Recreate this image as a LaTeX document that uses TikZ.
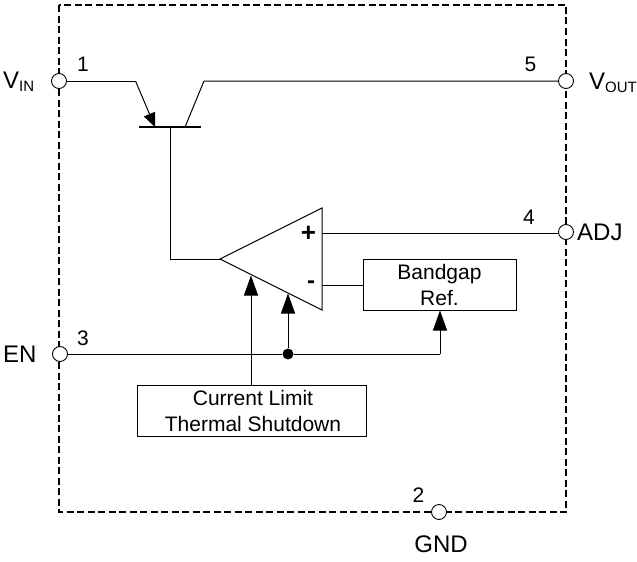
\documentclass[tikz,border=0pt]{standalone}
\usepackage{fontspec}
\setmainfont{Liberation Sans}
\usetikzlibrary{arrows.meta,calc}
\tikzset{
  wire/.style={line width=1pt,black,line cap=butt},
  fed/.style={wire,-{Triangle[length=20pt,width=14pt,fill=black]}},
  emit/.style={wire,-{Triangle[length=14pt,width=12pt,fill=black]}},
  pin/.style={circle,draw=black,line width=0.9pt,fill=white,minimum size=15pt,inner sep=0pt},
  blockbox/.style={draw=black,line width=1pt,fill=white,inner sep=0pt,align=center,font=\fontsize{21}{26}\selectfont},
  frame/.style={line width=1.3pt,dash pattern=on 7pt off 3.5pt,black},
  lab/.style={inner sep=0pt,font=\fontsize{21}{25}\selectfont},
  siglab/.style={inner sep=0pt,font=\fontsize{24}{28}\selectfont},
  dot/.style={circle,fill=black,inner sep=0pt,minimum size=11pt}
}
\newcommand{\subt}[1]{\raisebox{-3pt}{\fontsize{15}{18}\selectfont #1}}
\begin{document}
\begin{tikzpicture}[x=1pt,y=-1pt]
\useasboundingbox (0,0) rectangle (637,562);
% package outline
\draw[frame] (59,5) rectangle (566,512);
% coordinates
\coordinate (opA) at (220,259);
\coordinate (opT) at (322,208);
\coordinate (opB) at (322,310);
\coordinate (em) at (135.5,81);
\coordinate (emb) at (155,127);
\coordinate (co) at (204,81);
\coordinate (cob) at (185,127);
\coordinate (bl) at (139,127);
\coordinate (br) at (201,127);
\coordinate (bm) at (170,127);
\coordinate (bend) at (170,259);
\coordinate (plus) at (322,233);
\coordinate (minus) at (322,285);
\coordinate (tipA) at (251,275.5);
\coordinate (tipB) at (288,293.5);
% pins
\node[pin] (p1) at (59,81) {};
\node[pin] (p5) at (566,81) {};
\node[pin] (p4) at (566,232) {};
\node[pin] (p3) at (60,354) {};
\node[pin] (p2) at (439,512) {};
% blocks
\node[blockbox,minimum width=153pt,minimum height=51pt] (bg) at (439.5,284.5) {Bandgap\\Ref.};
\node[blockbox,minimum width=229pt,minimum height=51pt] (cl) at (251.5,410.5) {\hspace*{3pt}Current Limit\\\hspace*{3pt}Thermal Shutdown};
\node[dot] (j) at (288,354) {};
% transistor
\draw[wire,line width=1.2pt] (bl) -- (br);
\draw[wire] (p1) -- (em);
\draw[emit] (em) -- (emb);
\draw[wire] (cob) -- (co) -- (p5);
\draw[wire] (bm) -- (bend) -- (opA);
% op amp
\draw[wire,line join=miter] (opA) -- (opT) -- (opB) -- cycle;
\draw[wire] (plus) -- (plus -| p4.west);
\draw[wire] (minus) -- (minus -| bg.west);
% enable net
\draw[wire] (p3) -- (j);
\draw[wire] (j) -- (440,354) coordinate (enb);
\draw[fed] (enb) -- (enb |- bg.south);
\draw[fed] (j) -- (tipB);
\draw[fed] (cl.north -| tipA) -- (tipA);
% labels
\node[lab] (n1) at (83,64) {1};
\node[lab] (n5) at (530.5,64) {5};
\node[lab] (n4) at (529,217) {4};
\node[lab] (n3) at (83,338) {3};
\node[lab] (n2) at (418.5,495.5) {2};
\node[lab,font=\bfseries\fontsize{26}{28}\selectfont] (np) at (308.5,234) {+};
\node[lab,font=\bfseries\fontsize{24}{28}\selectfont] (nm) at (311,285) {-};
\node[siglab,anchor=base west] (vin) at (3,88) {V\subt{IN}};
\node[siglab,anchor=base west] (vout) at (589,89) {V\subt{OUT}};
\node[siglab,anchor=base west] (adj) at (577,240) {ADJ};
\node[siglab,anchor=base west] (en) at (3,362) {EN};
\node[siglab,anchor=base] (gnd) at (441,552) {GND};
\end{tikzpicture}
\end{document}
